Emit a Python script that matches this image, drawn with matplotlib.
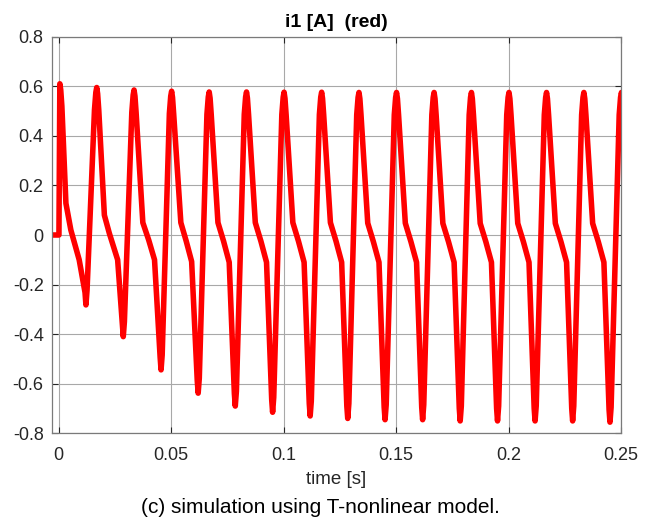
import numpy as np
import matplotlib
matplotlib.use("Agg")
import matplotlib.pyplot as plt

plt.rcParams['font.family'] = ['Liberation Sans', 'DejaVu Sans']

# current i1 [A], one entry per cycle
start_t = [-0.003, 0.0001]
start_i = [0.0, 0.0]

peak_t = [0.0005, 0.0169, 0.0335, 0.0502, 0.0669, 0.0835, 0.1002, 0.1169,
          0.1335, 0.1502, 0.1669, 0.1835, 0.2002, 0.2169, 0.2335, 0.2502]
peak_i = [0.61, 0.595, 0.585, 0.58, 0.577, 0.577, 0.576, 0.576,
          0.575, 0.575, 0.575, 0.575, 0.575, 0.575, 0.575, 0.575]

knee_t = [0.0032, 0.0203, 0.0374, 0.0543, 0.0708, 0.0874, 0.1041, 0.1208,
          0.1374, 0.1541, 0.1708, 0.1874, 0.2041, 0.2208, 0.2374]
knee_i = [0.128, 0.08, 0.05, 0.05, 0.05, 0.05, 0.05, 0.05,
          0.048, 0.048, 0.047, 0.047, 0.047, 0.047, 0.047]

mid_t = [0.0054, 0.0225, 0.0400, 0.0567, 0.0733, 0.0899, 0.1066, 0.1233,
         0.1399, 0.1566, 0.1733, 0.1899, 0.2066, 0.2233, 0.2399]
mid_i = [0.02, 0.007, -0.02, -0.025, -0.025, -0.025, -0.025, -0.025,
         -0.027, -0.027, -0.027, -0.027, -0.027, -0.027, -0.027]

bend_t = [0.0091, 0.0262, 0.0426, 0.0591, 0.0758, 0.0924, 0.1091, 0.1258,
          0.1424, 0.1591, 0.1758, 0.1924, 0.2091, 0.2258, 0.2424]
bend_i = [-0.10, -0.10, -0.10, -0.107, -0.11, -0.11, -0.11, -0.11,
          -0.11, -0.11, -0.11, -0.11, -0.11, -0.11, -0.11]

trough_t = [0.0121, 0.0287, 0.0455, 0.0620, 0.0785, 0.0951, 0.1118, 0.1285,
            0.1451, 0.1618, 0.1785, 0.1951, 0.2118, 0.2285, 0.2451]
trough_i = [-0.282, -0.41, -0.544, -0.638, -0.69, -0.715, -0.73, -0.74,
            -0.745, -0.745, -0.75, -0.75, -0.75, -0.75, -0.755]

# rounded tops and bottoms: (time offset, drop from the extreme)
peak_before = [(-0.0010, 0.09), (-0.0004, 0.02)]
peak_after = [(0.0004, 0.025), (0.0009, 0.09)]
trough_before = [(-0.0004, 0.05)]
trough_after = [(0.0005, 0.06)]

xticks = [0, 0.05, 0.1, 0.15, 0.2, 0.25]
yticks = [-0.8, -0.6, -0.4, -0.2, 0, 0.2, 0.4, 0.6, 0.8]


def add_peak(t, i1, tp, ip, first=False):
    if not first:
        for dt, di in peak_before:
            t.append(tp + dt)
            i1.append(ip - di)
    t.append(tp)
    i1.append(ip)
    for dt, di in peak_after:
        t.append(tp + dt)
        i1.append(ip - di)


def add_trough(t, i1, tt, it):
    for dt, di in trough_before:
        t.append(tt + dt)
        i1.append(it + di)
    t.append(tt)
    i1.append(it)
    for dt, di in trough_after:
        t.append(tt + dt)
        i1.append(it + di)


# put the points in time order
t = list(start_t)
i1 = list(start_i)
for k in range(len(trough_t)):
    add_peak(t, i1, peak_t[k], peak_i[k], first=(k == 0))
    t += [knee_t[k], mid_t[k], bend_t[k]]
    i1 += [knee_i[k], mid_i[k], bend_i[k]]
    add_trough(t, i1, trough_t[k], trough_i[k])
add_peak(t, i1, peak_t[-1], peak_i[-1])

fig = plt.figure(figsize=(6.57, 5.19), dpi=100)
ax = fig.add_axes([0.0791, 0.1651, 0.8661, 0.7642])

ax.plot(t, i1, color='#ff0000', lw=4.0, solid_joinstyle='round', solid_capstyle='round')

ax.set_xlim(-0.003, 0.25)
ax.set_ylim(-0.8, 0.8)
ax.set_xticks(xticks)
ax.set_xticklabels(['0', '0.05', '0.1', '0.15', '0.2', '0.25'])
ax.set_yticks(yticks)
ax.set_yticklabels(['-0.8', '-0.6', '-0.4', '-0.2', '0', '0.2', '0.4', '0.6', '0.8'])

ax.grid(True, color='#a8a8a8', lw=0.8)
ax.set_axisbelow(True)
for s in ax.spines.values():
    s.set_color('#7a7a7a')
    s.set_linewidth(0.9)
ax.tick_params(direction='in', length=4, width=0.8, color='#262626',
               labelsize=13, labelcolor='#262626', top=True, right=True)
ax.tick_params(axis='x', pad=10)
ax.tick_params(axis='y', pad=6)

ax.set_title('i1 [A]  (red)', fontsize=14, fontweight='bold', pad=7)
ax.set_xlabel('time [s]', fontsize=13.5, color='#262626', labelpad=5)
fig.text(0.487, 0.012, '(c) simulation using T-nonlinear model.', fontsize=15,
         ha='center', va='baseline', color='black')

fig.savefig('out.png', dpi=100)
